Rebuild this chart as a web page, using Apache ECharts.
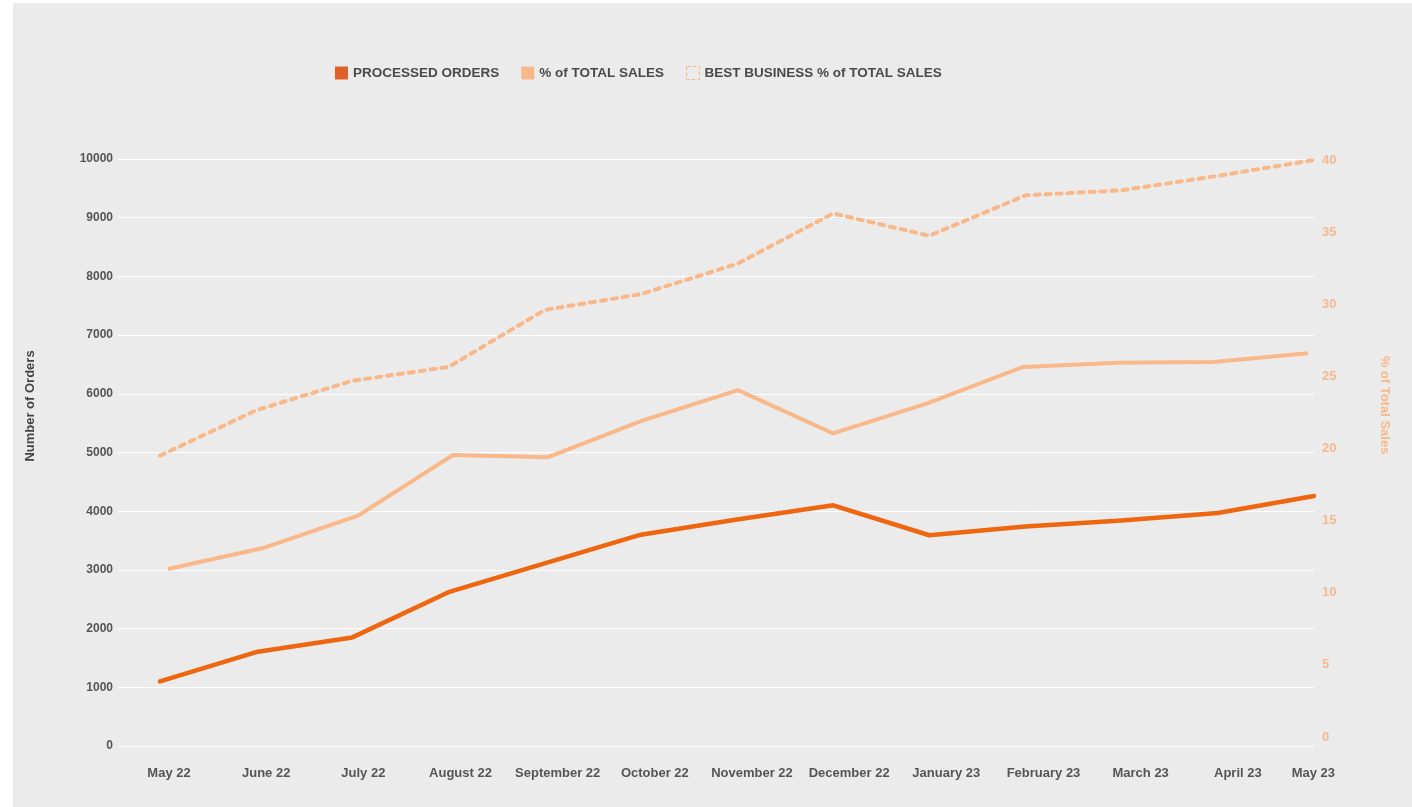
<!DOCTYPE html>
<html>
<head>
<meta charset="utf-8">
<script src="https://cdn.jsdelivr.net/npm/echarts@6/dist/echarts.min.js"></script>
<style>
html,body{margin:0;padding:0;background:#ffffff;}
#chart{width:1412px;height:807px;}
</style>
</head>
<body>
<div id="chart"></div>
<script>
var categories = ['May 22','June 22','July 22','August 22','September 22','October 22','November 22','December 22','January 23','February 23','March 23','April 23','May 23'];
var processedOrders = [1100,1600,1850,2620,3110,3600,3860,4100,3590,3740,3840,3970,4260];
var pctTotalSales = [11.65,13.1,15.35,19.55,19.4,21.95,24.05,21.05,23.15,25.65,25.95,26.0,26.6];
var bestBusinessPct = [19.5,22.65,24.7,25.65,29.6,30.7,32.8,36.3,34.75,37.55,37.9,38.9,40];
var leftTicks = {min:0, max:10000, interval:1000};
var rightTicks = {min:0, max:40, interval:5};

var FONT = '"Liberation Sans", Arial, sans-serif';
var DARK = '#EE6610';
var LIGHT = '#F9B88A';
var chart = echarts.init(document.getElementById('chart'));

chart.setOption({
  backgroundColor: 'transparent',
  animation: false,
  graphic: [
    {type:'rect', z:-10, silent:true, shape:{x:13,y:3,width:1399,height:804}, style:{fill:'#EBEBEB'}},
    {type:'text', x:30, y:406, rotation:Math.PI/2, style:{text:'Number of Orders', fill:'#444444', font:'bold 13px ' + FONT, textAlign:'center', textVerticalAlign:'middle'}},
    {type:'text', x:1385, y:405, rotation:-Math.PI/2, style:{text:'% of Total Sales', fill:LIGHT, font:'bold 13px ' + FONT, textAlign:'center', textVerticalAlign:'middle'}}
  ],
  legend: {
    left: 330, top: 61,
    itemWidth: 13, itemHeight: 13, itemGap: 22,
    textStyle: {fontFamily: FONT, fontWeight:'bold', fontSize:13.5, color:'#4a4a4a'},
    data: [
      {name:'PROCESSED ORDERS', icon:'rect', itemStyle:{color:'#E0602A'}},
      {name:'% of TOTAL SALES', icon:'rect', itemStyle:{color:LIGHT}},
      {name:'BEST BUSINESS % of TOTAL SALES', icon:'rect', itemStyle:{color:'rgba(0,0,0,0)', borderColor:LIGHT, borderWidth:1, borderType:'dashed'}}
    ]
  },
  grid: [
    {left:118, right:98, top:159, bottom:61},
    {left:160, right:98, top:159, bottom:61},
    {left:160, right:98, top:160, bottom:70},
    {left:168, right:104, top:160, bottom:70},
    {left:169, right:77, top:159, bottom:61}
  ],
  xAxis: [
    {gridIndex:0, type:'category', data:categories, show:false},
    {gridIndex:1, type:'category', data:categories, boundaryGap:false, show:false},
    {gridIndex:2, type:'category', data:categories, boundaryGap:false, show:false},
    {gridIndex:3, type:'category', data:categories, boundaryGap:false, show:false},
    {gridIndex:4, type:'category', data:categories, boundaryGap:false,
      axisLine:{show:false}, axisTick:{show:false}, splitLine:{show:false},
      axisLabel:{interval:0, margin:21, alignMaxLabel:'right', color:'#555555', fontFamily:FONT, fontWeight:'bold', fontSize:13}}
  ],
  yAxis: [
    {gridIndex:0, type:'value', min:leftTicks.min, max:leftTicks.max, interval:leftTicks.interval,
      axisLine:{show:false}, axisTick:{show:false},
      splitLine:{show:true, lineStyle:{color:'#ffffff', width:1.2}},
      axisLabel:{margin:5, color:'#555555', fontFamily:FONT, fontWeight:'bold', fontSize:12, formatter:function(v){return String(v);}}},
    {gridIndex:1, type:'value', min:leftTicks.min, max:leftTicks.max, interval:leftTicks.interval, show:false},
    {gridIndex:2, type:'value', position:'right', min:rightTicks.min, max:rightTicks.max, interval:rightTicks.interval,
      axisLine:{show:false}, axisTick:{show:false}, splitLine:{show:false},
      axisLabel:{margin:8, color:LIGHT, fontFamily:FONT, fontWeight:'bold', fontSize:13}},
    {gridIndex:3, type:'value', min:rightTicks.min, max:rightTicks.max, interval:rightTicks.interval, show:false},
    {gridIndex:4, type:'value', min:leftTicks.min, max:leftTicks.max, interval:leftTicks.interval, show:false}
  ],
  series: [
    {name:'BEST BUSINESS % of TOTAL SALES', type:'line', xAxisIndex:2, yAxisIndex:2, data:bestBusinessPct,
      showSymbol:false, symbol:'none', color:LIGHT,
      lineStyle:{color:LIGHT, width:4, type:[5,6], cap:'round', join:'round'}, z:3},
    {name:'% of TOTAL SALES', type:'line', xAxisIndex:3, yAxisIndex:3, data:pctTotalSales,
      showSymbol:false, symbol:'none', color:LIGHT,
      lineStyle:{color:LIGHT, width:4, cap:'butt', join:'miter'}, z:3},
    {name:'PROCESSED ORDERS', type:'line', xAxisIndex:1, yAxisIndex:1, data:processedOrders,
      showSymbol:false, symbol:'none', color:DARK,
      lineStyle:{color:DARK, width:4.5, cap:'round', join:'round'}, z:4}
  ]
});
</script>
</body>
</html>
